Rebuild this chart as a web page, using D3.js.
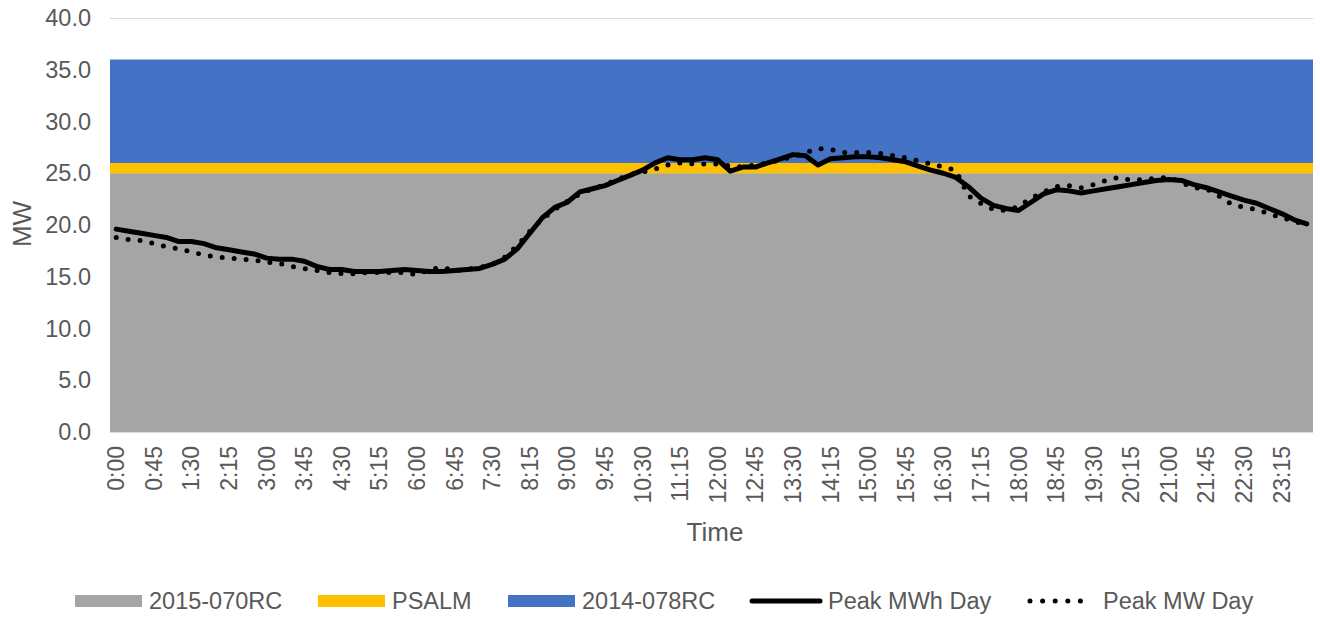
<!DOCTYPE html>
<html>
<head>
<meta charset="utf-8">
<script src="https://cdn.jsdelivr.net/npm/d3@7"></script>
<style>
  body { margin: 0; background: #fff; }
  text { font-family: "Liberation Sans", Arial, sans-serif; fill: #595959; }
</style>
</head>
<body>
<div id="chart"></div>
<script>
// 15-minute slots for one day
var times = d3.range(96).map(function(i) {
    return Math.floor(i / 4) + ":" + d3.format("02")((i % 4) * 15);
});

// stacked capacity bands (MW)
var bandNames  = ["2015-070RC", "PSALM", "2014-078RC"];
var bandValues = [25, 1, 10];
var bandColors = ["#a5a5a5", "#ffc000", "#4472c4"];

// load curves (MW)
var peakMWhDay = [
    19.6, 19.4, 19.2, 19.0, 18.8, 18.4, 18.4, 18.2, 17.8, 17.6, 17.4, 17.2,
    16.8, 16.7, 16.7, 16.5, 16.0, 15.7, 15.7, 15.5, 15.5, 15.5, 15.6, 15.7,
    15.6, 15.5, 15.5, 15.6, 15.7, 15.8, 16.2, 16.7, 17.7, 19.2, 20.7, 21.7,
    22.2, 23.2, 23.5, 23.8, 24.3, 24.8, 25.3, 26.0, 26.5, 26.3, 26.3, 26.5,
    26.3, 25.2, 25.6, 25.6, 26.0, 26.4, 26.8, 26.7, 25.8, 26.4, 26.5, 26.6,
    26.6, 26.5, 26.3, 26.1, 25.7, 25.3, 25.0, 24.6, 23.7, 22.6, 21.9, 21.6,
    21.4, 22.2, 23.0, 23.4, 23.3, 23.1, 23.3, 23.5, 23.7, 23.9, 24.1, 24.3,
    24.4, 24.3, 23.9, 23.6, 23.2, 22.8, 22.4, 22.1, 21.6, 21.1, 20.5, 20.1
];
var peakMWDay = [
    18.8, 18.6, 18.5, 18.2, 17.9, 17.7, 17.4, 17.1, 16.9, 16.8, 16.7, 16.6,
    16.4, 16.3, 16.0, 15.8, 15.6, 15.4, 15.3, 15.3, 15.4, 15.4, 15.4, 15.4,
    15.2, 15.7, 15.9, 15.6, 15.7, 15.9, 16.2, 16.9, 18.0, 19.4, 20.6, 21.5,
    22.3, 23.0, 23.5, 23.9, 24.4, 24.9, 25.1, 25.4, 25.8, 26.0, 25.9, 25.9,
    25.9, 25.7, 25.6, 25.8, 26.0, 26.3, 26.6, 27.0, 27.4, 27.3, 27.0, 27.0,
    27.0, 26.9, 26.7, 26.5, 26.2, 25.9, 25.6, 25.3, 22.8, 22.1, 21.5, 21.4,
    21.8, 22.6, 23.2, 23.7, 23.8, 23.6, 23.9, 24.3, 24.6, 24.3, 24.4, 24.5,
    24.6, 24.1, 23.6, 23.5, 22.8, 22.0, 21.7, 21.5, 21.1, 20.7, 20.4, 19.9
];
var lineNames = ["Peak MWh Day", "Peak MW Day"];

var yTicks = [0, 5, 10, 15, 20, 25, 30, 35, 40];

//////////////////////////////////////////////////////////////////////////////

var svgWidth = 1320, svgHeight = 618;
var plotLeft = 110, plotRight = 1313, plotTop = 18, plotBottom = 432;

var svg = d3.select("#chart").append("svg")
    .attr("width", svgWidth)
    .attr("height", svgHeight);

var xScale = d3.scaleBand().domain(times).range([plotLeft, plotRight]).padding(0);
var xEdge  = d3.scalePoint().domain(times).range([plotLeft, plotRight]);
var yScale = d3.scaleLinear().domain([0, 40]).range([plotBottom, plotTop]);

// gridlines
svg.append("g")
    .selectAll("line")
    .data(yTicks)
    .enter()
    .append("line")
    .attr("x1", plotLeft).attr("x2", plotRight)
    .attr("y1", function(d) { return yScale(d) + 0.5; })
    .attr("y2", function(d) { return yScale(d) + 0.5; })
    .attr("stroke", "#d9d9d9")
    .attr("stroke-width", 1);

// stacked bands
var rows = times.map(function(t) {
    var r = { time: t };
    bandNames.forEach(function(n, i) { r[n] = bandValues[i]; });
    return r;
});
var stacked = d3.stack().keys(bandNames)(rows);

var area = d3.area()
    .x(function(d) { return xEdge(d.data.time); })
    .y0(function(d) { return yScale(d[0]); })
    .y1(function(d) { return yScale(d[1]); });

svg.append("g")
    .selectAll("path")
    .data(stacked)
    .enter()
    .append("path")
    .attr("d", area)
    .attr("fill", function(d, i) { return bandColors[i]; });

// load lines
var line = d3.line()
    .x(function(d, i) { return xScale(times[i]) + xScale.bandwidth() / 2; })
    .y(function(d) { return yScale(d); });

svg.append("path")
    .attr("d", line(peakMWDay))
    .attr("fill", "none")
    .attr("stroke", "#000")
    .attr("stroke-width", 5)
    .attr("stroke-linecap", "round")
    .attr("stroke-dasharray", "0 12");

svg.append("path")
    .attr("d", line(peakMWhDay))
    .attr("fill", "none")
    .attr("stroke", "#000")
    .attr("stroke-width", 5)
    .attr("stroke-linejoin", "round")
    .attr("stroke-linecap", "round");

// y axis
svg.append("g")
    .selectAll("text")
    .data(yTicks)
    .enter()
    .append("text")
    .attr("x", 91)
    .attr("y", function(d) { return yScale(d) + 8; })
    .attr("text-anchor", "end")
    .style("font-size", "23.5px")
    .text(function(d) { return d3.format(".1f")(d); });

svg.append("text")
    .attr("transform", "translate(31,224) rotate(-90)")
    .attr("text-anchor", "middle")
    .style("font-size", "26px")
    .text("MW");

// x axis
svg.append("g")
    .selectAll("text")
    .data(times.filter(function(d, i) { return i % 3 === 0; }))
    .enter()
    .append("text")
    .attr("transform", function(d) {
        var x = xScale(d) + xScale.bandwidth() / 2 + 8;
        return "translate(" + x + ",446) rotate(-90)";
    })
    .attr("text-anchor", "end")
    .style("font-size", "23px")
    .text(function(d) { return d; });

svg.append("text")
    .attr("x", 715)
    .attr("y", 541)
    .attr("text-anchor", "middle")
    .style("font-size", "26px")
    .text("Time");

// legend
var legendItems = [
    { name: bandNames[0], kind: "rect", color: bandColors[0], x: 75 },
    { name: bandNames[1], kind: "rect", color: bandColors[1], x: 318 },
    { name: bandNames[2], kind: "rect", color: bandColors[2], x: 508 },
    { name: lineNames[0], kind: "solid", x: 752 },
    { name: lineNames[1], kind: "dot", x: 1030 }
];

var leg = svg.append("g")
    .selectAll("g")
    .data(legendItems)
    .enter()
    .append("g")
    .attr("transform", function(d) { return "translate(" + d.x + ",601)"; });

leg.filter(function(d) { return d.kind === "rect"; })
    .append("rect")
    .attr("x", 0).attr("y", -6)
    .attr("width", 67).attr("height", 12)
    .attr("fill", function(d) { return d.color; });

leg.filter(function(d) { return d.kind === "solid"; })
    .append("line")
    .attr("x1", 0).attr("x2", 68)
    .attr("stroke", "#000").attr("stroke-width", 5)
    .attr("stroke-linecap", "round");

leg.filter(function(d) { return d.kind === "dot"; })
    .append("line")
    .attr("x1", 0).attr("x2", 63)
    .attr("stroke", "#000").attr("stroke-width", 5)
    .attr("stroke-linecap", "round")
    .attr("stroke-dasharray", "0 12.6");

leg.append("text")
    .attr("x", function(d) { return d.kind === "dot" ? 73 : (d.kind === "solid" ? 76 : 74); })
    .attr("y", 8)
    .style("font-size", "23.5px")
    .text(function(d) { return d.name; });
</script>
</body>
</html>
